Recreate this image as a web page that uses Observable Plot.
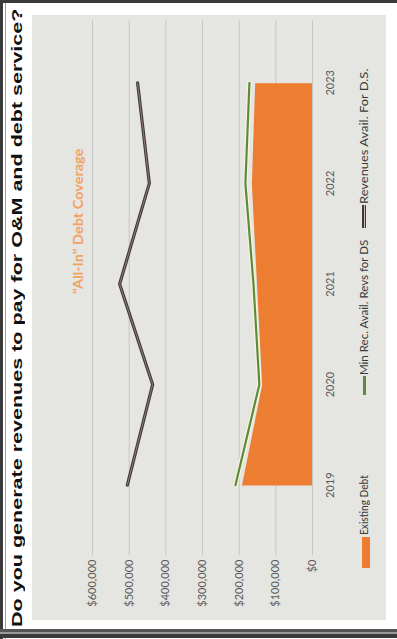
<!DOCTYPE html>
<html><head><meta charset="utf-8">
<script src="https://cdn.jsdelivr.net/npm/d3@7"></script>
<script src="https://cdn.jsdelivr.net/npm/@observablehq/plot@0.6"></script>
<style>
html,body{margin:0;padding:0;background:#fff;overflow:hidden;width:397px;height:639px;}
#rot{position:absolute;left:0;top:0;width:639px;height:397px;transform-origin:0 0;transform:translate(0,639px) rotate(-90deg);background:#fff;overflow:hidden;}
.abs{position:absolute;}
.fit{position:absolute;white-space:nowrap;display:inline-block;transform-origin:0 50%;}
#panel{position:absolute;left:19px;top:32px;width:605px;height:354px;background:#e5e5e2;}
#chart{position:absolute;left:0;top:0;}
.leg{font-family:Lato,"Open Sans",sans-serif;font-size:11px;color:#3a3a3a;}
</style></head><body>
<div id="rot">
  <div class="abs" style="left:0;top:0;width:639px;height:3px;background:#3a3a3a"></div>
  <div class="abs" style="left:0;top:5px;width:639px;height:1px;background:#a0a0a0"></div>
  <div class="abs" style="left:636px;top:0;width:3px;height:397px;background:#3a3a3a"></div>
  <div class="abs" style="left:1px;top:0;width:4px;height:397px;background:#3a3a3a"></div>
  <div class="abs" style="left:5px;top:0;width:2px;height:397px;background:#9a9a9a"></div>
  <div class="abs" style="left:7px;top:0;width:3px;height:397px;background:#555"></div>
  <div id="title" class="fit" data-w="618" style="left:12px;top:8px;font-family:'Liberation Sans',Arial,sans-serif;font-weight:bold;font-size:15.5px;line-height:18px;color:#111;">Do you generate revenues to pay for O&amp;M and debt service?</div>
  <div id="panel">
    <div id="chart"></div>
    <div class="fit" data-w="145" style="left:326px;top:37px;font-family:Lato,sans-serif;font-weight:bold;font-size:14px;line-height:17px;color:#f2a261;">"All-In" Debt Coverage</div>
    <div class="abs" style="left:52px;top:330px;width:31px;height:8px;background:#ED7D31"></div>
    <div class="fit leg" data-w="60" style="left:85px;top:325px;line-height:14px;">Existing Debt</div>
    <div class="abs" style="left:225px;top:331px;width:19px;height:3px;background:#5b8c3e"></div>
    <div class="fit leg" data-w="135" style="left:245px;top:325px;line-height:14px;">Min Rec. Avail. Revs for DS</div>
    <div class="abs" style="left:392px;top:330px;width:23px;height:4px;background:#3e383c"></div>
    <div class="abs" style="left:392px;top:331.5px;width:23px;height:1px;background:#cbbcc4"></div>
    <div class="fit leg" data-w="135" style="left:416px;top:325px;line-height:14px;">Revenues Avail. For D.S.</div>
  </div>
</div>
<script>
const years = [2019, 2020, 2021, 2022, 2023];
const existingDebt = [191000, 136000, 150000, 164000, 155000];
const minRecAvail = [210000, 145000, 161000, 183000, 172000];
const revenuesAvail = [505000, 436000, 526000, 445000, 477000];
const yTicks = [0, 100000, 200000, 300000, 400000, 500000, 600000];

const rows = years.map((year, i) => ({
  year, debt: existingDebt[i], minRec: minRecAvail[i], rev: revenuesAvail[i]
}));

const chart = Plot.plot({
  width: 605,
  height: 318,
  marginLeft: 65,
  marginRight: 5,
  marginTop: 60,
  marginBottom: 38,
  style: {background: "transparent", fontFamily: "Lato, 'Open Sans', sans-serif", fontSize: "11px", color: "#5a5a5a", overflow: "visible"},
  x: {type: "linear", domain: [2018.31, 2023.63]},
  y: {domain: [0, 600000]},
  marks: [
    Plot.gridY(yTicks, {stroke: "#c6c6c4", strokeOpacity: 1, strokeWidth: 1}),
    Plot.areaY(rows, {x: "year", y: "debt", fill: "#ED7D31"}),
    Plot.line(rows, {x: "year", y: "minRec", stroke: "#fbf3dc", strokeWidth: 4.5}),
    Plot.line(rows, {x: "year", y: "minRec", stroke: "#5b8c3e", strokeWidth: 2.2}),
    Plot.line(rows, {x: "year", y: "rev", stroke: "#3e383c", strokeWidth: 3.2}),
    Plot.line(rows, {x: "year", y: "rev", stroke: "#a48c98", strokeWidth: 0.8}),
    Plot.axisY(yTicks, {tickSize: 0, tickPadding: 5, label: null, tickFormat: d => "$" + d3.format(",")(d)}),
    Plot.axisX(years, {tickSize: 0, tickPadding: 14, label: null, tickFormat: d => String(d)})
  ]
});
document.getElementById("chart").appendChild(chart);

document.querySelectorAll(".fit").forEach(el => {
  const w = +el.dataset.w;
  const nat = el.offsetWidth;
  if (nat > 0) el.style.transform = `scaleX(${w / nat})`;
});
</script>
</body></html>
